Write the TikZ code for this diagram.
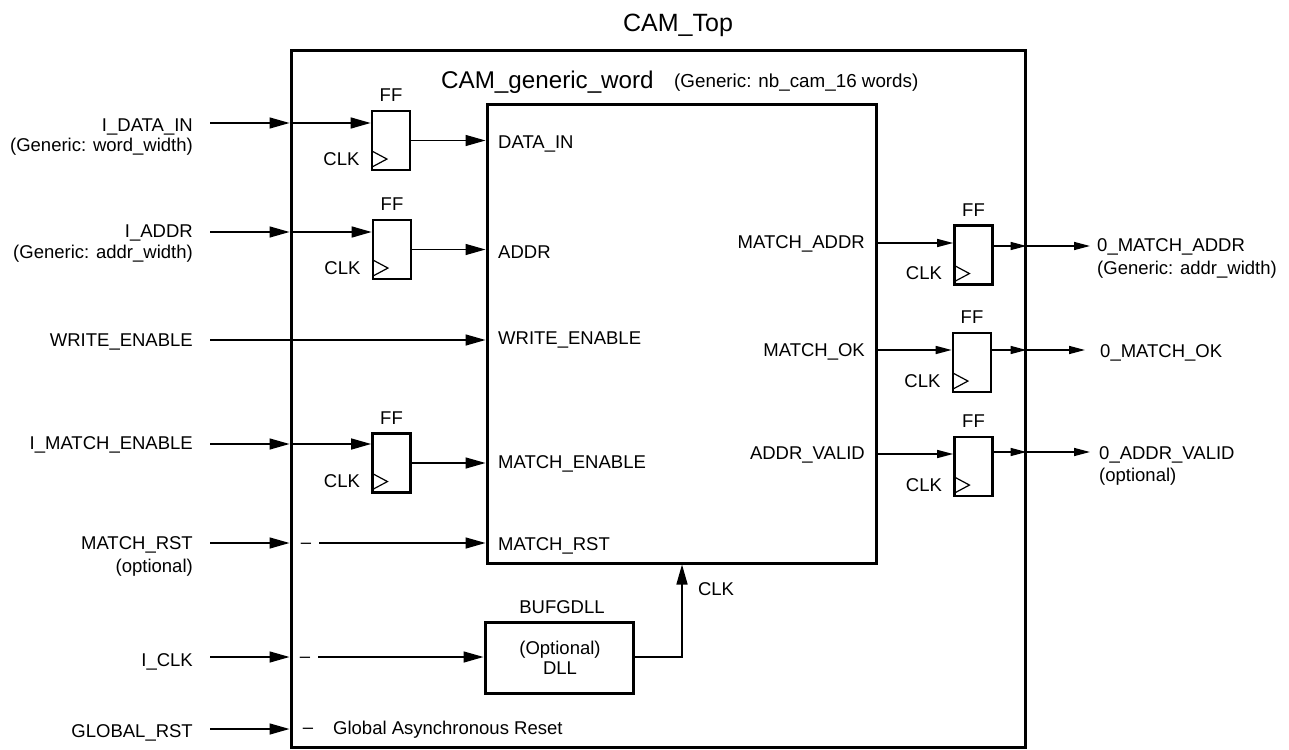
\documentclass[tikz,border=0pt]{standalone}
\usepackage{fontspec}
\setmainfont{Liberation Sans}
\usetikzlibrary{arrows.meta}
\newcommand\ffcell[3]{%
  \node[ffbox] (#1) at (#2,#3) {};
  \node[anchor=base] (#1lab) at ([yshift=8pt]#1.north) {FF};
  \node[anchor=base east] (#1clk) at ([xshift=-11pt,yshift=6pt]#1.south west) {CLK};
  \draw[clksym] ([xshift=1.3pt,yshift=20.3pt]#1.south west) -- ++(15,8) -- ++(-15,8);
}
\begin{document}
\begin{tikzpicture}[x=1pt,y=-1pt,
  every node/.style={font=\fontsize{18.5}{21}\selectfont, inner sep=0pt},
  box/.style={draw, line width=3pt},
  ffbox/.style={draw, line width=2.7pt, minimum width=38pt, minimum height=59pt},
  sigL/.style={line width=1.5pt, -{Triangle[length=20pt,width=11pt]}},
  sigS/.style={line width=1.5pt, -{Triangle[length=16pt,width=8pt]}},
  clksym/.style={line width=1.2pt, line join=miter},
]
\useasboundingbox (0,0) rectangle (1289,749);

% boxes
\node[box, minimum width=734pt, minimum height=696pt] (top) at (658,399) {};
\node[box, minimum width=389pt, minimum height=458pt] (word) at (681.5,334) {};
\node[box, minimum width=148pt, minimum height=71pt] (dll) at (559,657.5) {};

% titles
\node[font=\fontsize{25}{28}\selectfont, anchor=base] (ttop) at (678,32) {CAM\_Top};
\node[font=\fontsize{24.2}{28}\selectfont, anchor=base west] (tword) at (441,89) {CAM\_generic\_word};
\node[font=\fontsize{18.8}{21}\selectfont, anchor=base west] (tgen) at (674,88) {(Generic: nb\_cam\_16 words)};

% flip-flops
\ffcell{ffa}{391}{140.5}
\ffcell{ffb}{392}{249.5}
\ffcell{ffc}{391.5}{463}
\ffcell{ffA}{973.5}{255}
\ffcell{ffB}{972}{362.5}
\ffcell{ffC}{973.5}{466.5}

% left labels
\node[anchor=base east] (lDat) at (193,131.5) {I\_DATA\_IN};
\node[anchor=base east] (lDatG) at (193,151.5) {(Generic: word\_width)};
\node[anchor=base east] (lAddr) at (193,237.5) {I\_ADDR};
\node[anchor=base east] (lAddrG) at (193,258.5) {(Generic: addr\_width)};
\node[anchor=base east] (lWe) at (193,346.5) {WRITE\_ENABLE};
\node[anchor=base east] (lMe) at (193,449.5) {I\_MATCH\_ENABLE};
\node[anchor=base east] (lRst) at (193,549.5) {MATCH\_RST};
\node[anchor=base east] (lRstO) at (193,572.5) {(optional)};
\node[anchor=base east] (lClk) at (193,666) {I\_CLK};
\node[anchor=base east] (lGr) at (193,737) {GLOBAL\_RST};

% free ends of inputs
\coordinate (sDat) at (210,123);
\coordinate (sAddr) at (210,232);
\coordinate (sWe) at (210,340);
\coordinate (sMe) at (210,444);
\coordinate (sRst) at (210,543);
\coordinate (sClk) at (210,657);
\coordinate (sGr) at (210,729);

\draw[sigL] (sDat) -- (top.west |- sDat);
\draw[sigL] (sAddr) -- (top.west |- sAddr);
\draw[sigL] (sWe) -- (word.west |- sWe);
\draw[sigL] (sMe) -- (top.west |- sMe);
\draw[sigL] (sRst) -- (top.west |- sRst);
\draw[sigL] (sClk) -- (top.west |- sClk);
\draw[sigL] (sGr) -- (top.west |- sGr);

\draw[sigL] (top.west |- sDat) -- (ffa.west |- sDat);
\draw[sigL] (top.west |- sAddr) -- (ffb.west |- sAddr);
\draw[sigL] (top.west |- sMe) -- (ffc.west |- sMe);

\draw[sigL] (ffa.east) -- (word.west |- ffa.east);
\draw[sigL] (ffb.east) -- (word.west |- ffb.east);
\draw[sigL] (ffc.east) -- (word.west |- ffc.east);

% dashes inside top box
\node[anchor=base] (dRst) at (306,548) {–};
\node[anchor=base] (dClk) at (305,662) {–};
\node[anchor=base] (dGr) at (308,733) {–};
\node[anchor=base west] (tGr) at (333,734.5) {Global Asynchronous Reset};

\draw[sigL, shorten <=8pt] (dRst.east |- sRst) -- (word.west |- sRst);
\draw[sigL, shorten <=8pt] (dClk.east |- sClk) -- (dll.west |- sClk);

% word inner labels
\node[anchor=base west] (pDat) at (498,148.5) {DATA\_IN};
\node[anchor=base west] (pAddr) at (498,258) {ADDR};
\node[anchor=base west] (pWe) at (498,344.5) {WRITE\_ENABLE};
\node[anchor=base west] (pMe) at (498,468.5) {MATCH\_ENABLE};
\node[anchor=base west] (pRst) at (498,550.5) {MATCH\_RST};
\node[anchor=base east] (pMa) at (865,248.5) {MATCH\_ADDR};
\node[anchor=base east] (pMo) at (865,356.5) {MATCH\_OK};
\node[anchor=base east] (pAv) at (865,459.5) {ADDR\_VALID};

% DLL
\node[anchor=base] (tBuf) at (562,613.5) {BUFGDLL};
\node[anchor=base] (tOpt) at (560,654.5) {(Optional)};
\node[anchor=base] (tDll) at (560,674.5) {DLL};
\coordinate (bend) at (682,657);
\draw[sigL, line join=miter] (dll.east |- bend) -- (bend) -- (bend |- word.south);
\node[anchor=base] (tClkO) at (716,595.5) {CLK};

% right side
\coordinate (yA) at (0,243);
\coordinate (yB) at (0,350);
\coordinate (yC) at (0,454);
\coordinate (oA) at (0,246);
\coordinate (oB) at (0,350);
\coordinate (oC) at (0,452);
\coordinate (eA) at (1090,246);
\coordinate (eB) at (1085,350);
\coordinate (eC) at (1090,452);

\draw[sigS] (word.east |- yA) -- (ffA.west |- yA);
\draw[sigS] (word.east |- yB) -- (ffB.west |- yB);
\draw[sigS] (word.east |- yC) -- (ffC.west |- yC);
\draw[sigS] (ffA.east |- oA) -- (top.east |- oA);
\draw[sigS] (ffB.east |- oB) -- (top.east |- oB);
\draw[sigS] (ffC.east |- oC) -- (top.east |- oC);
\draw[sigS] (top.east |- oA) -- (eA);
\draw[sigS] (top.east |- oB) -- (eB);
\draw[sigS] (top.east |- oC) -- (eC);

\node[anchor=base west] (rMa) at (1097,251.5) {0\_MATCH\_ADDR};
\node[anchor=base west] (rMaG) at (1097,274.5) {(Generic: addr\_width)};
\node[anchor=base west] (rMo) at (1100,357.5) {0\_MATCH\_OK};
\node[anchor=base west] (rAv) at (1099,459.5) {0\_ADDR\_VALID};
\node[anchor=base west] (rAvO) at (1099,481.5) {(optional)};
\end{tikzpicture}
\end{document}
